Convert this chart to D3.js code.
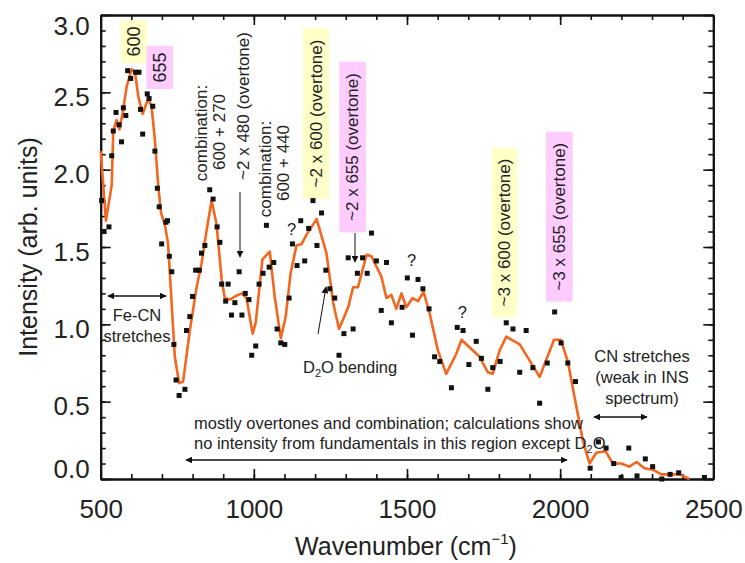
<!DOCTYPE html>
<html>
<head>
<meta charset="utf-8">
<script src="https://cdn.jsdelivr.net/npm/d3@7"></script>
<style>
  body { margin: 0; background: #fff; }
  svg text { font-family: "Liberation Sans", Arial, sans-serif; fill: #222; }
</style>
</head>
<body>
<div class="visHolder"></div>
<script>
// calculated spectrum (orange line)
const calcWavenumber = [
  500, 517, 536, 541, 552, 561, 572, 585, 601, 612, 623, 637, 655, 666, 677,
  688, 697, 710, 720, 742, 756, 769, 791, 813, 829, 846, 862, 878, 895, 905,
  922, 938, 960, 976, 996, 1006, 1028, 1052, 1068, 1088, 1104, 1120, 1139,
  1156, 1172, 1205, 1237, 1259, 1278, 1308, 1324, 1340, 1368, 1384, 1416,
  1433, 1449, 1465, 1482, 1498, 1518, 1536, 1554, 1574, 1601, 1628, 1661,
  1678, 1737, 1764, 1780, 1802, 1824, 1868, 1933, 1980, 2002, 2025, 2047,
  2074, 2096, 2118, 2148, 2172, 2199, 2226, 2250, 2275, 2302, 2330, 2357,
  2390, 2422,
];
const calcIntensity = [
  2.12, 1.67, 1.9, 2.25, 2.32, 2.26, 2.37, 2.54, 2.65, 2.63, 2.47, 2.36, 2.46,
  2.41, 2.19, 1.89, 1.72, 1.64, 1.52, 0.79, 0.62, 0.63, 0.96, 1.24, 1.39, 1.61,
  1.8, 1.65, 1.29, 1.17, 1.16, 1.18, 1.2, 1.17, 0.94, 1.01, 1.42, 1.47, 1.18,
  0.91, 1.05, 1.33, 1.51, 1.52, 1.58, 1.68, 1.46, 1.14, 0.97, 1.11, 1.24, 1.24,
  1.45, 1.44, 1.31, 1.17, 1.19, 1.1, 1.2, 1.11, 1.17, 1.15, 1.21, 1.07, 0.83,
  0.68, 0.81, 0.9, 0.79, 0.69, 0.68, 0.83, 0.92, 0.87, 0.66, 0.9, 0.9, 0.76,
  0.53, 0.25, 0.1, 0.17, 0.18, 0.1, 0.1, 0.08, 0.11, 0.07, 0.06, 0.03, 0.03,
  0.03, 0.0,
];

// measured INS spectrum (black squares)
const measWavenumber = [
  503, 511, 527, 536, 541, 550, 560, 568, 574, 582, 588, 598, 614, 625, 630,
  637, 652, 658, 670, 677, 685, 691, 699, 713, 718, 724, 732, 739, 746, 756,
  775, 780, 791, 800, 810, 822, 829, 840, 856, 867, 880, 889, 895, 908, 916,
  927, 938, 952, 961, 972, 984, 993, 1006, 1017, 1030, 1041, 1050, 1065, 1076,
  1088, 1101, 1115, 1126, 1141, 1153, 1166, 1179, 1193, 1206, 1221, 1235, 1248,
  1264, 1278, 1294, 1308, 1324, 1338, 1355, 1370, 1384, 1400, 1416, 1433, 1449,
  1484, 1501, 1518, 1536, 1552, 1572, 1590, 1607, 1645, 1664, 1683, 1702, 1726,
  1743, 1764, 1780, 1804, 1824, 1846, 1868, 1889, 1911, 1933, 1958, 1982, 2003,
  2025, 2050, 2098, 2125, 2150, 2175, 2199, 2224, 2251, 2278, 2302, 2332, 2359,
  2387, 2471,
];
const measIntensity = [
  1.8, 1.6, 1.63, 2.09, 2.25, 2.37, 2.29, 2.18, 2.4, 2.35, 2.64, 2.59, 2.63,
  2.63, 2.39, 2.23, 2.49, 2.46, 2.41, 2.12, 1.88, 1.76, 1.52, 1.66, 1.67, 1.44,
  1.34, 0.87, 0.64, 0.54, 0.58, 0.96, 1.05, 1.18, 1.35, 1.35, 1.46, 1.51, 1.87,
  1.81, 1.63, 1.53, 1.26, 1.15, 1.26, 1.06, 1.14, 1.34, 1.06, 1.2, 1.16, 0.8,
  0.86, 1.26, 1.33, 1.64, 1.37, 1.4, 0.97, 0.88, 0.87, 1.17, 1.52, 1.38, 1.67,
  1.41, 1.62, 1.8, 1.51, 1.72, 1.35, 1.23, 1.17, 0.8, 0.94, 1.43, 0.97, 1.33,
  1.43, 1.33, 1.59, 1.41, 1.09, 1.4, 1.01, 1.11, 1.3, 0.93, 1.29, 1.23, 1.1,
  0.79, 0.76, 0.59, 0.98, 0.96, 0.74, 0.89, 0.78, 0.58, 0.72, 0.76, 1.01, 0.97,
  0.69, 0.96, 0.72, 0.49, 0.75, 1.08, 0.88, 0.75, 0.63, 0.07, 0.24, 0.2, 0.1,
  0.01, 0.2, 0.02, 0.13, 0.08, 0.0, 0.03, 0.04, 0.01,
];

const xMajorTicks = [500, 1000, 1500, 2000, 2500];
const xMinorTicks = d3.range(500, 2501, 100);
const yMajorTicks = [0, 0.5, 1, 1.5, 2, 2.5, 3];
const yMinorTicks = d3.range(0, 31).map((d) => d / 10);

const width = 745;
const height = 563;

const xScale = d3.scaleLinear().domain([500, 2500]).range([100.7, 713.3]);
const yScale = d3.scaleLinear().domain([0, 3]).range([479, 15]);

const svg = d3
  .select(".visHolder")
  .append("svg")
  .attr("width", width)
  .attr("height", height);

const defs = svg.append("defs");
defs
  .append("marker")
  .attr("id", "head")
  .attr("viewBox", "0 0 10 10")
  .attr("refX", 9)
  .attr("refY", 5)
  .attr("markerWidth", 7)
  .attr("markerHeight", 7)
  .attr("markerUnits", "userSpaceOnUse")
  .attr("orient", "auto-start-reverse")
  .append("path")
  .attr("d", "M0,0 L10,5 L0,10 z")
  .attr("fill", "#111");

// label boxes behind the rotated peak labels
const boxes = [
  { x: 120.7, y: 20, w: 26, h: 43, fill: "#ffffc8" },
  { x: 146.5, y: 46, w: 26.5, h: 43, fill: "#ffccff" },
  { x: 302.7, y: 28, w: 26.6, h: 171, fill: "#ffffc8" },
  { x: 339.3, y: 61.7, w: 26.7, h: 170.6, fill: "#ffccff" },
  { x: 491.7, y: 147.7, w: 25.6, h: 169.6, fill: "#ffffc8" },
  { x: 546, y: 131.7, w: 26.7, h: 170, fill: "#ffccff" },
];
svg
  .append("g")
  .selectAll("rect")
  .data(boxes)
  .enter()
  .append("rect")
  .attr("x", (d) => d.x)
  .attr("y", (d) => d.y)
  .attr("width", (d) => d.w)
  .attr("height", (d) => d.h)
  .attr("fill", (d) => d.fill);

// axes: ticks point inward on all four sides
function styleAxis(g) {
  g.select(".domain").attr("stroke", "#111").attr("stroke-width", 2);
  g.selectAll(".tick line").attr("stroke", "#111").attr("stroke-width", 1.6);
  g.selectAll(".tick text").attr("font-size", 26).attr("fill", "#222");
}

svg
  .append("g")
  .attr("transform", `translate(0,${yScale(0)})`)
  .call(d3.axisBottom(xScale).tickValues(xMinorTicks).tickSize(-5).tickSizeOuter(0).tickFormat(""))
  .call(styleAxis);
svg
  .append("g")
  .attr("id", "x-axis")
  .attr("transform", `translate(0,${yScale(0)})`)
  .call(d3.axisBottom(xScale).tickValues(xMajorTicks).tickSize(-10).tickSizeOuter(0).tickPadding(21).tickFormat(d3.format("d")))
  .call(styleAxis);
svg
  .append("g")
  .attr("transform", `translate(0,${yScale(3)})`)
  .call(d3.axisTop(xScale).tickValues(xMinorTicks).tickSize(-5).tickSizeOuter(0).tickFormat(""))
  .call(styleAxis);
svg
  .append("g")
  .attr("transform", `translate(0,${yScale(3)})`)
  .call(d3.axisTop(xScale).tickValues(xMajorTicks).tickSize(-10).tickSizeOuter(0).tickFormat(""))
  .call(styleAxis);

svg
  .append("g")
  .attr("transform", `translate(${xScale(500)},0)`)
  .call(d3.axisLeft(yScale).tickValues(yMinorTicks).tickSize(-5).tickSizeOuter(0).tickFormat(""))
  .call(styleAxis);
svg
  .append("g")
  .attr("id", "y-axis")
  .attr("transform", `translate(${xScale(500)},0)`)
  .call(d3.axisLeft(yScale).tickValues(yMajorTicks).tickSize(-10).tickSizeOuter(0).tickPadding(11).tickFormat(d3.format(".1f")))
  .call(styleAxis)
  .selectAll(".tick text")
  .attr("dy", (d) => (d === 0 ? "-0.05em" : d === 3 ? "0.75em" : "0.5em"));
svg
  .append("g")
  .attr("transform", `translate(${xScale(2500)},0)`)
  .call(d3.axisRight(yScale).tickValues(yMinorTicks).tickSize(-5).tickSizeOuter(0).tickFormat(""))
  .call(styleAxis);
svg
  .append("g")
  .attr("transform", `translate(${xScale(2500)},0)`)
  .call(d3.axisRight(yScale).tickValues(yMajorTicks).tickSize(-10).tickSizeOuter(0).tickFormat(""))
  .call(styleAxis);

// axis titles
svg
  .append("text")
  .attr("transform", "translate(28,247) rotate(-90)")
  .attr("text-anchor", "middle")
  .attr("dominant-baseline", "central")
  .attr("font-size", 25)
  .text("Intensity (arb. units)");

const xTitle = svg
  .append("text")
  .attr("x", 406)
  .attr("y", 555)
  .attr("text-anchor", "middle")
  .attr("font-size", 25);
xTitle.append("tspan").text("Wavenumber (cm");
xTitle.append("tspan").attr("font-size", 15).attr("dy", -11).text("−1");
xTitle.append("tspan").attr("dy", 11).text(")");

// calculated line + measured points
const calc = calcWavenumber.map((w, i) => [w, calcIntensity[i]]);
const meas = measWavenumber.map((w, i) => [w, measIntensity[i]]);

svg
  .append("path")
  .datum(calc)
  .attr("fill", "none")
  .attr("stroke", "#f5661e")
  .attr("stroke-width", 2.6)
  .attr("stroke-linejoin", "round")
  .attr("d", d3.line().x((d) => xScale(d[0])).y((d) => yScale(d[1])));

svg
  .append("g")
  .selectAll("rect")
  .data(meas)
  .enter()
  .append("rect")
  .attr("x", (d) => xScale(d[0]) - 2.5)
  .attr("y", (d) => yScale(d[1]) - 2.5)
  .attr("width", 5)
  .attr("height", 5)
  .attr("fill", "#111");

// rotated labels
const rotLabels = [
  { x: 133.7, y: 41.5, t: "600", fs: 18 },
  { x: 159.7, y: 67.5, t: "655", fs: 18 },
  { x: 201, y: 133, t: "combination:", fs: 17 },
  { x: 219, y: 132, t: "600 + 270", fs: 17 },
  { x: 243.5, y: 106, t: "~2 x 480 (overtone)", fs: 17 },
  { x: 265, y: 169, t: "combination:", fs: 17 },
  { x: 283, y: 163, t: "600 + 440", fs: 17 },
  { x: 316, y: 113.5, t: "~2 x 600 (overtone)", fs: 17 },
  { x: 352.7, y: 147, t: "~2 x 655 (overtone)", fs: 17 },
  { x: 504.5, y: 232.5, t: "~3 x 600 (overtone)", fs: 17 },
  { x: 559.3, y: 216.7, t: "~3 x 655 (overtone)", fs: 17 },
];
svg
  .append("g")
  .selectAll("text")
  .data(rotLabels)
  .enter()
  .append("text")
  .attr("transform", (d) => `translate(${d.x},${d.y}) rotate(-90)`)
  .attr("text-anchor", "middle")
  .attr("dominant-baseline", "central")
  .attr("font-size", (d) => d.fs)
  .text((d) => d.t);

// plain labels
const flatLabels = [
  { x: 291.7, y: 229, t: "?", a: "middle" },
  { x: 411.7, y: 260, t: "?", a: "middle" },
  { x: 462.3, y: 311.7, t: "?", a: "middle" },
  { x: 137, y: 315, t: "Fe-CN", a: "middle" },
  { x: 137, y: 336, t: "stretches", a: "middle" },
  { x: 194, y: 423, t: "mostly overtones and combination; calculations show", a: "start" },
  { x: 642, y: 356, t: "CN stretches", a: "middle" },
  { x: 642, y: 377, t: "(weak in INS", a: "middle" },
  { x: 642, y: 398, t: "spectrum)", a: "middle" },
];
svg
  .append("g")
  .selectAll("text")
  .data(flatLabels)
  .enter()
  .append("text")
  .attr("x", (d) => d.x)
  .attr("y", (d) => d.y)
  .attr("text-anchor", (d) => d.a)
  .attr("dominant-baseline", "central")
  .attr("font-size", 16.5)
  .text((d) => d.t);

// labels with D2O subscripts
function d2o(sel, before, after) {
  sel.append("tspan").text(before + "D");
  sel.append("tspan").attr("font-size", 11).attr("dy", 4).text("2");
  sel.append("tspan").attr("dy", -4).text("O" + after);
}
d2o(
  svg.append("text").attr("x", 303).attr("y", 373).attr("font-size", 16.5),
  "",
  " bending"
);
d2o(
  svg.append("text").attr("x", 194).attr("y", 449).attr("font-size", 16.5),
  "no intensity from fundamentals in this region except ",
  ""
);

// arrows
const arrows = [
  { x1: 240, y1: 192, x2: 240, y2: 257, both: false },
  { x1: 355, y1: 233, x2: 355, y2: 262, both: false },
  { x1: 318, y1: 334, x2: 326, y2: 287, both: false },
  { x1: 108, y1: 296, x2: 166, y2: 296, both: true },
  { x1: 186, y1: 460, x2: 567, y2: 460, both: true },
  { x1: 594, y1: 417, x2: 647, y2: 417, both: true },
];
svg
  .append("g")
  .selectAll("line")
  .data(arrows)
  .enter()
  .append("line")
  .attr("x1", (d) => d.x1)
  .attr("y1", (d) => d.y1)
  .attr("x2", (d) => d.x2)
  .attr("y2", (d) => d.y2)
  .attr("stroke", "#111")
  .attr("stroke-width", (d) => (d.both ? 1.6 : 1))
  .attr("marker-end", "url(#head)")
  .attr("marker-start", (d) => (d.both ? "url(#head)" : null));
</script>
</body>
</html>
